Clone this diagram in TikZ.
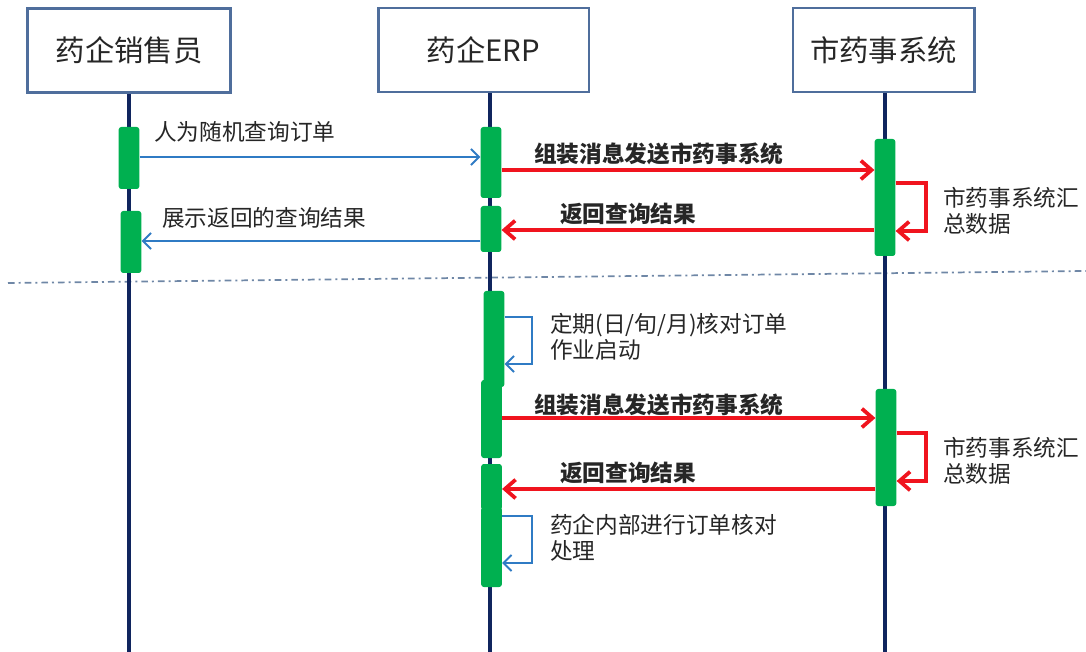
\documentclass[tikz,border=0pt]{standalone}
\usepackage{fontspec}
\setmainfont{Noto Sans CJK SC}
\usetikzlibrary{arrows.meta}
\definecolor{boxline}{HTML}{4F6E9C}
\definecolor{lifecol}{HTML}{10255E}
\definecolor{barcol}{HTML}{00B050}
\definecolor{redcol}{HTML}{F0141E}
\definecolor{bluecol}{HTML}{2F7BC4}
\definecolor{sepcol}{HTML}{6F87A6}
\definecolor{txtcol}{HTML}{262626}
\tikzset{
  actor/.style={draw=boxline, line width=2pt, fill=white, minimum width=#1, minimum height=63pt, inner sep=0pt, font=\fontsize{22}{24}\selectfont, text=txtcol},
  lifeline/.style={draw=lifecol, line width=3pt},
  actbar/.style={fill=barcol, rounded corners=2pt, minimum width=15.5pt, inner sep=0pt},
  bluemsg/.style={draw=bluecol, line width=1.5pt, -{Straight Barb[length=6pt,width=12pt,line width=1.5pt]}},
  redmsg/.style={draw=redcol, line width=2.8pt, -{Straight Barb[length=8pt,width=14pt,line width=2.8pt]}},
  lbl/.style={anchor=west, inner sep=0pt, text=txtcol, font=\fontsize{17}{19.5}\selectfont, align=left},
  blbl/.style={lbl, font=\fontsize{17}{19.5}\selectfont\bfseries},
  sepline/.style={draw=sepcol, line width=1.3pt, dash pattern=on 5pt off 3pt on 1.5pt off 3pt}
}
\newcommand\mybar[4]{\node[actbar, minimum height={(#4-#3)*0.75pt}] (#1) at (#2,{(#3+#4)/2}) {};}
\begin{document}
\begin{tikzpicture}[x=0.75pt,y=-0.75pt]
\useasboundingbox (0,0) rectangle (1086,652);
% separator
\coordinate (sepL) at (8,283);
\coordinate (sepR) at (1086,271);
\draw[sepline] (sepL) -- (sepR);
% actors
\node[actor=152pt] (A) at (129,50.5) {药企销售员};
\node[actor=158pt] (B) at (483.5,50) {药企ERP};
\node[actor=136pt] (C) at (883.5,50) {市药事系统};
% lifelines
\coordinate (bot) at (0,652);
\coordinate (xA) at (129,0);
\coordinate (xB) at (490,0);
\coordinate (xC) at (885,0);
\draw[lifeline] (A.south -| xA) -- (xA |- bot);
\draw[lifeline] (B.south -| xB) -- (xB |- bot);
\draw[lifeline] (C.south -| xC) -- (xC |- bot);
% activation bars
\mybar{a1}{129}{127}{189}
\mybar{a2}{131}{211}{273}
\mybar{b1}{491}{127}{198}
\mybar{b2}{491}{206}{252}
\mybar{c1}{885}{139}{256}
\mybar{b3}{494}{291}{387}
\mybar{b4}{491.5}{380}{458}
\mybar{b5}{491.5}{464}{510}
\mybar{b6}{491.5}{507}{587}
\mybar{c2}{886}{389}{506}
% y levels
\coordinate (y1) at (0,157);
\coordinate (y2) at (0,170);
\coordinate (y3t) at (0,183);
\coordinate (y3b) at (0,231);
\coordinate (y4) at (0,230);
\coordinate (y5) at (0,241);
\coordinate (y6t) at (0,317);
\coordinate (y6b) at (0,364);
\coordinate (y7) at (0,418);
\coordinate (y8t) at (0,433);
\coordinate (y8b) at (0,481);
\coordinate (y9) at (0,489);
\coordinate (y10t) at (0,516);
\coordinate (y10b) at (0,563);
\coordinate (rC) at (926,0);
\coordinate (rB) at (532,0);
% messages
\draw[bluemsg] (a1.east |- y1) -- (b1.west |- y1);
\draw[redmsg] (b1.east |- y2) -- (c1.west |- y2);
\draw[redmsg] (c1.east |- y3t) -- (rC |- y3t) -- (rC |- y3b) -- (c1.east |- y3b);
\draw[redmsg] (c1.west |- y4) -- (b2.east |- y4);
\draw[bluemsg] (b2.west |- y5) -- (a2.east |- y5);
\draw[bluemsg] (b3.east |- y6t) -- (rB |- y6t) -- (rB |- y6b) -- (b3.east |- y6b);
\draw[redmsg] (b4.east |- y7) -- (c2.west |- y7);
\draw[redmsg] (c2.east |- y8t) -- (rC |- y8t) -- (rC |- y8b) -- (c2.east |- y8b);
\draw[redmsg] (c2.west |- y9) -- (b5.east |- y9);
\draw[bluemsg] (b6.east |- y10t) -- (rB |- y10t) -- (rB |- y10b) -- (b6.east |- y10b);
% labels
\node[lbl] (t1) at (154,132) {人为随机查询订单};
\node[blbl] (t2) at (534,154) {组装消息发送市药事系统};
\node[lbl] (t3) at (943,211) {市药事系统汇\\总数据};
\node[blbl] (t4) at (560,214) {返回查询结果};
\node[lbl] (t5) at (162,218) {展示返回的查询结果};
\node[lbl] (t6) at (550,337) {定期(日/旬/月)核对订单\\作业启动};
\node[blbl] (t7) at (534,405) {组装消息发送市药事系统};
\node[lbl] (t8) at (943,461) {市药事系统汇\\总数据};
\node[blbl] (t9) at (560,473) {返回查询结果};
\node[lbl] (t10) at (550,538) {药企内部进行订单核对\\处理};
\end{tikzpicture}
\end{document}
